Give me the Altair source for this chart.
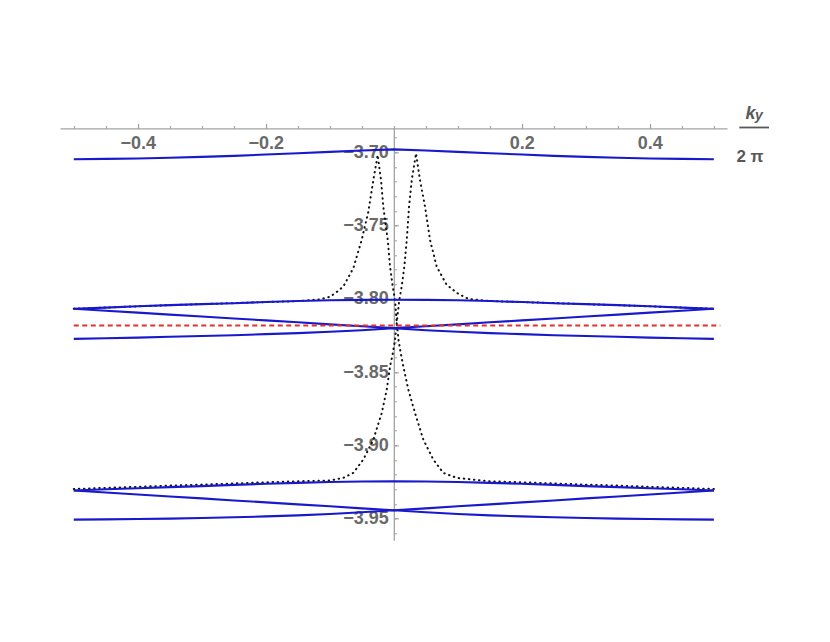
import altair as alt
import pandas as pd

# ---------------- data ----------------
k_grid = [-0.5, -0.45, -0.4, -0.35, -0.3, -0.25, -0.2, -0.15, -0.1, -0.05, 0.0,
          0.05, 0.1, 0.15, 0.2, 0.25, 0.3, 0.35, 0.4, 0.45, 0.5]

band_top = [-3.7047, -3.7045, -3.7042, -3.7037, -3.7031, -3.7024, -3.7015, -3.7006, -3.6997, -3.6988, -3.6980,
            -3.6988, -3.6997, -3.7006, -3.7015, -3.7024, -3.7031, -3.7037, -3.7042, -3.7045, -3.7047]
band_a = [-3.8068, -3.8060, -3.8051, -3.8043, -3.8036, -3.8030, -3.8022, -3.8015, -3.8010, -3.8007, -3.8006,
          -3.8007, -3.8010, -3.8015, -3.8022, -3.8030, -3.8036, -3.8043, -3.8051, -3.8060, -3.8068]
band_b = [-3.8068, -3.8081, -3.8094, -3.8108, -3.8121, -3.8134, -3.8147, -3.8160, -3.8174, -3.8187, -3.8200,
          -3.8187, -3.8174, -3.8160, -3.8147, -3.8134, -3.8121, -3.8108, -3.8094, -3.8081, -3.8068]
band_c = [-3.8273, -3.8269, -3.8265, -3.8259, -3.8254, -3.8248, -3.8241, -3.8234, -3.8225, -3.8214, -3.8200,
          -3.8214, -3.8225, -3.8234, -3.8241, -3.8248, -3.8254, -3.8259, -3.8265, -3.8269, -3.8273]
band_d = [-3.9308, -3.9300, -3.9293, -3.9285, -3.9278, -3.9270, -3.9262, -3.9256, -3.9250, -3.9247, -3.9246,
          -3.9247, -3.9250, -3.9256, -3.9262, -3.9270, -3.9278, -3.9285, -3.9293, -3.9300, -3.9308]
band_e = [-3.9308, -3.9322, -3.9335, -3.9349, -3.9362, -3.9376, -3.9389, -3.9403, -3.9416, -3.9430, -3.9443,
          -3.9430, -3.9416, -3.9403, -3.9389, -3.9376, -3.9362, -3.9349, -3.9335, -3.9322, -3.9308]
band_f = [-3.9507, -3.9505, -3.9503, -3.9500, -3.9496, -3.9491, -3.9485, -3.9478, -3.9468, -3.9457, -3.9443,
          -3.9457, -3.9468, -3.9478, -3.9485, -3.9491, -3.9496, -3.9500, -3.9503, -3.9505, -3.9507]

dot1_k = [-0.5, -0.4, -0.3, -0.2, -0.1466, -0.1153, -0.0997, -0.0888, -0.0789, -0.0633, -0.0502, -0.0398,
          -0.0320, -0.0252, -0.0200, -0.0164, -0.0095, -0.0059, -0.0017, 0.0019, 0.0042, 0.0073, 0.0113,
          0.0148, 0.0227, 0.0331, 0.0461, 0.0617, 0.0773, 0.0983, 0.15, 0.2, 0.25, 0.3, 0.35, 0.4, 0.45, 0.5]
dot1_e = [-3.8068, -3.8051, -3.8036, -3.8022, -3.8015, -3.8003, -3.7986, -3.7952, -3.7916, -3.7791, -3.7598,
          -3.7405, -3.7189, -3.7018, -3.7189, -3.7371, -3.7598, -3.7780, -3.7916, -3.8007, -3.8143, -3.8279,
          -3.8382, -3.8461, -3.8620, -3.8779, -3.8961, -3.9097, -3.9188, -3.9222, -3.9245, -3.9252, -3.9260,
          -3.9268, -3.9275, -3.9283, -3.9290, -3.9298]

dot2_k = [-0.5, -0.45, -0.4, -0.35, -0.3, -0.25, -0.2, -0.15, -0.0997, -0.0789, -0.0633, -0.0477, -0.0320,
          -0.0189, -0.0111, -0.0059, -0.0020, 0.0019, 0.0050, 0.0086, 0.0123, 0.0164, 0.0202, 0.0238, 0.0280,
          0.0347, 0.0409, 0.0488, 0.0566, 0.0670, 0.0827, 0.1008, 0.1164, 0.15, 0.2, 0.3, 0.4, 0.5]
dot2_e = [-3.9298, -3.9290, -3.9283, -3.9275, -3.9268, -3.9260, -3.9252, -3.9245, -3.9240, -3.9222, -3.9188,
          -3.9097, -3.8961, -3.8779, -3.8620, -3.8461, -3.8382, -3.8279, -3.8143, -3.8007, -3.7916, -3.7780,
          -3.7598, -3.7371, -3.7189, -3.7007, -3.7189, -3.7371, -3.7598, -3.7780, -3.7905, -3.7966, -3.8000,
          -3.8015, -3.8022, -3.8036, -3.8051, -3.8068]

fermi_k = [-0.5, 0.51]
fermi_e = [-3.8182, -3.8182]

x_major = [-0.4, -0.2, 0.2, 0.4]
x_minor = [-0.5, -0.45, -0.4, -0.35, -0.3, -0.25, -0.2, -0.15, -0.1, -0.05, 0.0,
           0.05, 0.1, 0.15, 0.2, 0.25, 0.3, 0.35, 0.4, 0.45, 0.5]
y_major = [-3.95, -3.90, -3.85, -3.80, -3.75, -3.70]
y_minor = [-3.96, -3.95, -3.94, -3.93, -3.92, -3.91, -3.90, -3.89, -3.88, -3.87, -3.86, -3.85, -3.84,
           -3.83, -3.82, -3.81, -3.80, -3.79, -3.78, -3.77, -3.76, -3.75, -3.74, -3.73, -3.72, -3.71,
           -3.70, -3.69]

# ---------------- tables ----------------
bands = {"top": band_top, "a": band_a, "b": band_b, "c": band_c,
         "d": band_d, "e": band_e, "f": band_f}
band_rows = []
for name, vals in bands.items():
    for i, (k, v) in enumerate(zip(k_grid, vals)):
        band_rows.append({"series": name, "order": i, "k": k, "E": v})
band_df = pd.DataFrame(band_rows)

dot_rows = []
for name, ks, es in (("d1", dot1_k, dot1_e), ("d2", dot2_k, dot2_e)):
    for i, (k, v) in enumerate(zip(ks, es)):
        dot_rows.append({"series": name, "order": i, "k": k, "E": v})
dot_df = pd.DataFrame(dot_rows)

fermi_df = pd.DataFrame({"k": fermi_k, "E": fermi_e, "order": [0, 1]})

# ---------------- scales & axes ----------------
W, H = 667, 412
XD = [-0.5215, 0.5205]
YD = [-3.9648, -3.6836]
xs = alt.Scale(domain=XD, nice=False, zero=False)
ys = alt.Scale(domain=YD, nice=False, zero=False)
zero_px = (0 - XD[0]) / (XD[1] - XD[0]) * W
y_off = zero_px - W

AX_COL = "#a3a3a3"
LAB_COL = "#696969"

x_axis_major = alt.Axis(orient="top", values=x_major, format=".1f", tickSize=5, tickWidth=1.2,
                        tickColor=AX_COL, domainColor=AX_COL, domainWidth=1.3,
                        labelPadding=-20, labelBaseline="middle", labelAlign="center",
                        labelFont="Liberation Sans", labelFontSize=18, labelFontWeight="bold",
                        labelColor=LAB_COL, labelFlush=False, labelOverlap=False, labelBound=False,
                        grid=False, title=None)
y_axis_major = alt.Axis(orient="right", offset=y_off, values=y_major, format=".2f", tickSize=4.5,
                        tickWidth=1.2, tickColor=AX_COL, domainColor=AX_COL, domainWidth=1.3,
                        labelPadding=-10, labelAlign="right", labelBaseline="middle",
                        labelFont="Liberation Sans", labelFontSize=18, labelFontWeight="bold",
                        labelColor=LAB_COL, labelFlush=False, labelOverlap=False, labelBound=False,
                        grid=False, title=None)
x_axis_minor = alt.Axis(orient="top", values=x_minor, tickSize=2.8, tickWidth=1.1, tickColor=AX_COL,
                        labels=False, domain=False, grid=False, title=None)
y_axis_minor = alt.Axis(orient="right", offset=y_off, values=y_minor, tickSize=2.6, tickWidth=1.1,
                        tickColor=AX_COL, labels=False, domain=False, grid=False, title=None)

# ---------------- layers ----------------
dots = alt.Chart(dot_df).mark_line(color="#111111", strokeWidth=2.0, strokeDash=[0.5, 4.6],
                                   strokeCap="round").encode(
    x=alt.X("k:Q", scale=xs, axis=x_axis_major),
    y=alt.Y("E:Q", scale=ys, axis=y_axis_major),
    detail="series:N", order="order:Q")

blue = alt.Chart(band_df).mark_line(color="#1818cc", strokeWidth=2.1).encode(
    x=alt.X("k:Q", scale=xs, axis=x_axis_minor),
    y=alt.Y("E:Q", scale=ys, axis=y_axis_minor),
    detail="series:N", order="order:Q")

red = alt.Chart(fermi_df).mark_line(color="#e3302b", strokeWidth=2.0, strokeDash=[5, 3.5]).encode(
    x=alt.X("k:Q", scale=xs, axis=None),
    y=alt.Y("E:Q", scale=ys, axis=None),
    order="order:Q")

one = alt.Data(values=[{}])
TXT = "#585858"
lab_k = alt.Chart(one).mark_text(text="k", fontSize=18, fontStyle="italic", fontWeight="bold",
                                 font="Liberation Sans", color=TXT, align="center",
                                 baseline="alphabetic").encode(x=alt.value(690.5), y=alt.value(-9.5))
lab_y = alt.Chart(one).mark_text(text="y", fontSize=14, fontStyle="italic", fontWeight="bold",
                                 font="Liberation Sans", color=TXT, align="center",
                                 baseline="alphabetic").encode(x=alt.value(698.8), y=alt.value(-8.0))
lab_2pi = alt.Chart(one).mark_text(text="2 π", fontSize=17, fontWeight="bold",
                                   font="Liberation Sans", color=TXT, align="center",
                                   baseline="alphabetic").encode(x=alt.value(690), y=alt.value(33.4))
frac = alt.Chart(one).mark_rule(color=TXT, strokeWidth=1.8).encode(
    x=alt.value(679.3), x2=alt.value(709), y=alt.value(-0.8))

chart = alt.layer(dots, blue, red, lab_k, lab_y, lab_2pi, frac).resolve_axis(
    x="independent", y="independent"
).properties(
    width=W, height=H, autosize="none",
    padding={"left": 52, "top": 120.3, "right": 60, "bottom": 20},
    background="white",
).configure_view(strokeWidth=0)

chart.save("out.html", embed_options={"renderer": "svg", "actions": False})
